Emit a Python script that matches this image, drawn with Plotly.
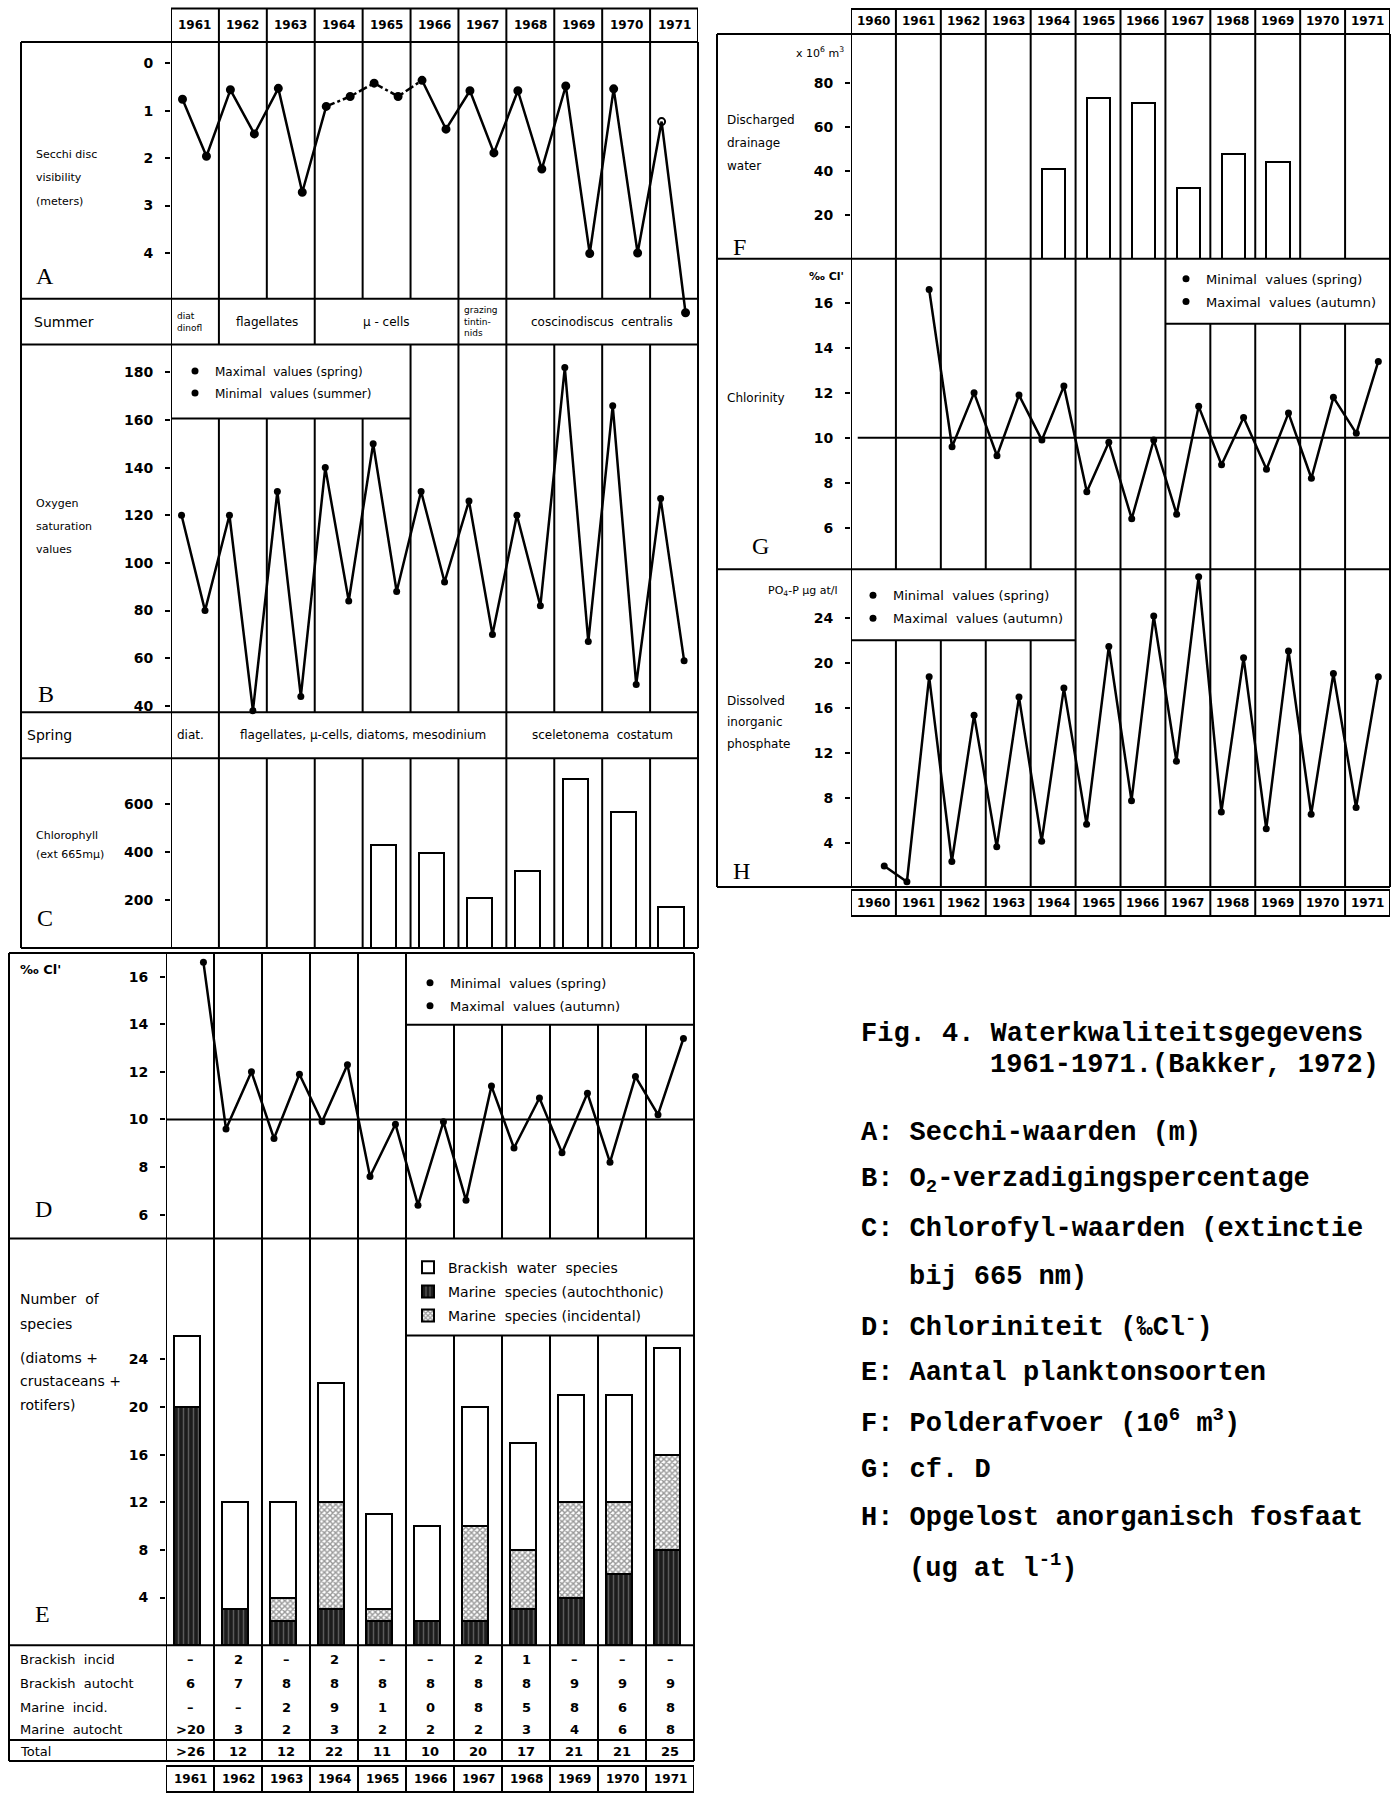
import plotly.graph_objects as go

W, H = 1398, 1796

# ---------------------------------------------------------------- data
YEARS_L = list(range(1961, 1972))
YEARS_R = list(range(1960, 1972))

# A: Secchi disc visibility (m)
secchi_spring = [0.76, 0.56, 0.53, 0.91, 0.42, 0.36, 0.58, 0.58, 0.48, 0.54, 1.23]
secchi_summer = [1.96, 1.49, 2.72, 0.70, 0.70, 1.39, 1.89, 2.23, 4.01, 4.00, 5.26]

# B: oxygen saturation values
oxygen_spring_max = [120, 120, 130, 140, 150, 130, 126, 120, 182, 166, 127]
oxygen_summer_min = [80, 38, 44, 84, 88, 92, 70, 82, 67, 49, 59]

# dominant plankton
summer_plankton = ["diat<br>dinofl", "flagellates", "µ - cells", "grazing<br>tintin-<br>nids",
                   "coscinodiscus  centralis"]
summer_start = [1961, 1962, 1964, 1967, 1968]
summer_end = [1962, 1964, 1967, 1968, 1972]
spring_plankton = ["diat.", "flagellates, µ-cells, diatoms, mesodinium", "sceletonema  costatum"]
spring_start = [1961, 1962, 1968]
spring_end = [1962, 1968, 1972]

# C: chlorophyll
chloro_years = [1965, 1966, 1967, 1968, 1969, 1970, 1971]
chloro_vals = [428, 397, 210, 320, 703, 568, 170]

# D / G: chlorinity
chl_spring_years = list(range(1962, 1972))
chl_spring_min = [9.6, 9.2, 9.9, 7.6, 6.4, 6.6, 8.8, 8.6, 8.2, 10.2]
chl_autumn_years = list(range(1961, 1972))
chl_autumn_max = [16.6, 12.0, 11.9, 12.3, 9.8, 9.9, 11.4, 10.9, 11.1, 11.8, 13.4]

# E: number of species
brackish_incid = [None, 2, None, 2, None, None, 2, 1, None, None, None]
brackish_autocht = [6, 7, 8, 8, 8, 8, 8, 8, 9, 9, 9]
marine_incid = [None, None, 2, 9, 1, 0, 8, 5, 8, 6, 8]
marine_autocht = [20, 3, 2, 3, 2, 2, 2, 3, 4, 6, 8]
species_total = [26, 12, 12, 22, 11, 10, 20, 17, 21, 21, 25]
is_minimum = [True, False, False, False, False, False, False, False, False, False, False]
table_rows = ["Brackish  incid", "Brackish  autocht", "Marine  incid.", "Marine  autocht", "Total"]

# F: discharged drainage water
drain_years = [1964, 1965, 1966, 1967, 1968, 1969]
drain_vals = [41, 73, 71, 32, 47.5, 44]

# H: dissolved inorganic phosphate
phos_spring_years = list(range(1961, 1972))
phos_spring_min = [0.6, 2.4, 3.7, 4.2, 5.7, 7.8, 11.3, 6.8, 5.3, 6.6, 7.2]
phos_autumn_years = list(range(1960, 1972))
phos_autumn_max = [2.0, 18.8, 15.4, 17.0, 17.8, 21.5, 24.2, 27.7, 20.5, 21.1, 19.1, 18.8]

caption = [
    "Fig. 4. Waterkwaliteitsgegevens",
    "1961-1971.(Bakker, 1972)",
    "A: Secchi-waarden (m)",
    "B: O<sub>2</sub>-verzadigingspercentage",
    "C: Chlorofyl-waarden (extinctie",
    "bij 665 nm)",
    "D: Chloriniteit (‰Cl<sup>-</sup>)",
    "E: Aantal planktonsoorten",
    "F: Polderafvoer (10<sup>6</sup> m<sup>3</sup>)",
    "G: cf. D",
    "H: Opgelost anorganisch fosfaat",
    "(ug at l<sup>-1</sup>)",
]

# ---------------------------------------------------------------- helpers
SANS = "DejaVu Sans"
SERIF = "Liberation Serif"
MONO = "Liberation Mono"
LW = 2


def px(x):
    return x / W


def py(y):
    return 1 - y / H


def lin_range(p_top, p_bot, v1, p1, v2, p2):
    k = (v2 - v1) / (p2 - p1)
    return [v1 + (p_bot - p1) * k, v1 + (p_top - p1) * k]


def merge(xa, ya, xb, yb):
    pts = sorted(list(zip(xa, ya)) + list(zip(xb, yb)))
    return [p[0] for p in pts], [p[1] for p in pts]


shapes = []
annotations = []


def seg(x0, y0, x1, y1, xref="paper", yref="paper", dash="solid", width=LW):
    shapes.append(dict(type="line", xref=xref, yref=yref,
                       x0=px(x0) if xref == "paper" else x0,
                       x1=px(x1) if xref == "paper" else x1,
                       y0=py(y0) if yref == "paper" else y0,
                       y1=py(y1) if yref == "paper" else y1,
                       line=dict(color="black", width=width, dash=dash)))


def vline(xref, xv, y0, y1):
    seg(xv, y0, xv, y1, xref=xref)


def hline(xref, xa, xb, y):
    seg(xa, y, xb, y, xref=xref)


def ann(text, x, y, xref="paper", size=12, family=SANS, xanchor="left",
        yanchor="middle", weight="normal", align="left"):
    annotations.append(dict(text=text, x=px(x) if xref == "paper" else x, y=py(y),
                            xref=xref, yref="paper", showarrow=False,
                            xanchor=xanchor, yanchor=yanchor, align=align,
                            font=dict(family=family, size=size, color="black", weight=weight)))


# ---------------------------------------------------------------- geometry
LT_X0, LT_X1, LT_LEFT = 171, 698, 21
LB_X0, LB_X1, LB_LEFT = 166, 694, 9
R_X0, R_X1, R_LEFT = 851, 1390, 717

fig = go.Figure()

line_style = dict(color="black", width=2.5)
mk = dict(color="black", size=7)

# ---- A: Secchi
xa, ya = merge([y + 0.24 for y in YEARS_L], secchi_spring,
               [y + 0.74 for y in YEARS_L], secchi_summer)
i64 = xa.index(1964.24)
i66 = xa.index(1966.24)
for sl, dash in ((slice(0, i64 + 1), "solid"), (slice(i64, i66 + 1), "dashdot"),
                 (slice(i66, None), "solid")):
    fig.add_trace(go.Scatter(x=xa[sl], y=ya[sl], mode="lines", xaxis="x", yaxis="y",
                             line=dict(color="black", width=2.5, dash=dash),
                             showlegend=False, cliponaxis=False, hoverinfo="skip"))
# the last spring reading is drawn as an open circle in the original
open_x = YEARS_L[-1] + 0.24
sym = ["circle-open" if abs(x - open_x) < 1e-9 else "circle" for x in xa]
fig.add_trace(go.Scatter(x=xa, y=ya, mode="markers", xaxis="x", yaxis="y",
                         marker=dict(color="black", size=7, symbol=sym,
                                     line=dict(color="black", width=2)),
                         showlegend=False, cliponaxis=False))

# ---- B: Oxygen
xs_b = [y + 0.22 for y in YEARS_L]
xm_b = [y + 0.71 for y in YEARS_L]
xb, yb = merge(xs_b, oxygen_spring_max, xm_b, oxygen_summer_min)
fig.add_trace(go.Scatter(x=xb, y=yb, mode="lines", xaxis="x", yaxis="y2", line=line_style,
                         showlegend=False, cliponaxis=False))
fig.add_trace(go.Scatter(x=xs_b, y=oxygen_spring_max, mode="markers", xaxis="x", yaxis="y2",
                         marker=mk, name="Maximal  values (spring)", legend="legend2",
                         legendgroup="b1", cliponaxis=False))
fig.add_trace(go.Scatter(x=xm_b, y=oxygen_summer_min, mode="markers", xaxis="x", yaxis="y2",
                         marker=mk, name="Minimal  values (summer)", legend="legend2",
                         legendgroup="b2", cliponaxis=False))

# ---- C: Chlorophyll
fig.add_trace(go.Bar(x=[y + 0.44 for y in chloro_years], y=chloro_vals, width=0.53,
                     xaxis="x", yaxis="y3", showlegend=False,
                     marker=dict(color="white", line=dict(color="black", width=2))))

# ---- D and G: Chlorinity
for xax, yax, lg, off_s, off_a in (("x2", "y4", "legend3", 0.25, 0.78), ("x3", "y7", "legend4", 0.25, 0.74)):
    xs = [y + off_s for y in chl_spring_years]
    xt = [y + off_a for y in chl_autumn_years]
    xc, yc = merge(xs, chl_spring_min, xt, chl_autumn_max)
    fig.add_trace(go.Scatter(x=xc, y=yc, mode="lines", xaxis=xax, yaxis=yax, line=line_style,
                             showlegend=False, cliponaxis=False))
    fig.add_trace(go.Scatter(x=xs, y=chl_spring_min, mode="markers", xaxis=xax, yaxis=yax,
                             marker=mk, name="Minimal  values (spring)", legend=lg,
                             legendgroup=lg + "a", cliponaxis=False))
    fig.add_trace(go.Scatter(x=xt, y=chl_autumn_max, mode="markers", xaxis=xax, yaxis=yax,
                             marker=mk, name="Maximal  values (autumn)", legend=lg,
                             legendgroup=lg + "b", cliponaxis=False))

# ---- E: species bars (stacked)
xe = [y + 0.44 for y in YEARS_L]
mar_inc = [v if v is not None else 0 for v in marine_incid]
brack = [(a if a is not None else 0) + b for a, b in zip(brackish_incid, brackish_autocht)]
fig.add_trace(go.Bar(x=xe, y=marine_autocht, width=0.54, xaxis="x2", yaxis="y5",
                     name="Marine  species (autochthonic)", legend="legend", legendgroup="e2",
                     legendrank=2,
                     marker=dict(color="#1c1c1c", line=dict(color="black", width=2),
                                 pattern=dict(shape="|", fgcolor="#9a9a9a", bgcolor="#1c1c1c",
                                              size=5, solidity=0.3))))
fig.add_trace(go.Bar(x=xe, y=mar_inc, width=0.54, xaxis="x2", yaxis="y5",
                     name="Marine  species (incidental)", legend="legend", legendgroup="e3",
                     legendrank=3,
                     marker=dict(color="#333333", line=dict(color="black", width=2),
                                 pattern=dict(shape="x", fgcolor="#333333", bgcolor="white",
                                              size=4, solidity=0.6))))
fig.add_trace(go.Bar(x=xe, y=brack, width=0.54, xaxis="x2", yaxis="y5",
                     name="Brackish  water  species", legend="legend", legendgroup="e1",
                     legendrank=1,
                     marker=dict(color="white", line=dict(color="black", width=2))))

# ---- F: drainage
fig.add_trace(go.Bar(x=[y + 0.51 for y in drain_years], y=drain_vals, width=0.52,
                     xaxis="x3", yaxis="y6", showlegend=False,
                     marker=dict(color="white", line=dict(color="black", width=2))))

# ---- H: phosphate
xs_h = [y + 0.245 for y in phos_spring_years]
xa_h = [y + 0.74 for y in phos_autumn_years]
xh, yh = merge(xs_h, phos_spring_min, xa_h, phos_autumn_max)
fig.add_trace(go.Scatter(x=xh, y=yh, mode="lines", xaxis="x3", yaxis="y8", line=line_style,
                         showlegend=False, cliponaxis=False))
fig.add_trace(go.Scatter(x=xs_h, y=phos_spring_min, mode="markers", xaxis="x3", yaxis="y8",
                         marker=mk, name="Minimal  values (spring)", legend="legend5",
                         legendgroup="h1", cliponaxis=False))
fig.add_trace(go.Scatter(x=xa_h, y=phos_autumn_max, mode="markers", xaxis="x3", yaxis="y8",
                         marker=mk, name="Maximal  values (autumn)", legend="legend5",
                         legendgroup="h2", cliponaxis=False))

# ---------------------------------------------------------------- axes


def yax(anchor, top, bot, rng, tickvals):
    return dict(anchor=anchor, domain=[py(bot), py(top)], range=rng, tickvals=tickvals,
                ticks="outside", ticklen=5, tickwidth=2, tickcolor="black",
                showline=False, showgrid=False, zeroline=False, ticklabelstandoff=9,
                tickfont=dict(family=SANS, size=14, color="black", weight="bold"),
                fixedrange=True)


xcommon = dict(visible=False, showgrid=False, zeroline=False, fixedrange=True)
layout_axes = dict(
    xaxis=dict(domain=[px(LT_X0), px(LT_X1)], range=[1961, 1972], anchor="y", **xcommon),
    xaxis2=dict(domain=[px(LB_X0), px(LB_X1)], range=[1961, 1972], anchor="y5", **xcommon),
    xaxis3=dict(domain=[px(R_X0), px(R_X1)], range=[1960, 1972], anchor="y6", **xcommon),
    yaxis=yax("x", 42, 345, lin_range(42, 345, 0, 63.3, 4, 253.3), [0, 1, 2, 3, 4]),
    yaxis2=yax("x", 345, 713, lin_range(345, 713, 180, 372.7, 40, 706.7), list(range(40, 181, 20))),
    yaxis3=yax("x", 759, 949, lin_range(759, 949, 0, 949, 600, 805), [200, 400, 600]),
    yaxis4=yax("x2", 954, 1240, lin_range(954, 1240, 16, 977.7, 6, 1216), list(range(6, 17, 2))),
    yaxis5=yax("x2", 1240, 1647, lin_range(1240, 1647, 0, 1647, 24, 1361), list(range(4, 25, 4))),
    yaxis6=yax("x3", 34, 259, lin_range(34, 259, 0, 259, 80, 83), [20, 40, 60, 80]),
    yaxis7=yax("x3", 259, 570, lin_range(259, 570, 16, 303.3, 6, 528.3), list(range(6, 17, 2))),
    yaxis8=yax("x3", 570, 888, lin_range(570, 888, 0, 889.5, 24, 619), list(range(4, 25, 4))),
)

# ---------------------------------------------------------------- frames
# left upper block
hline("x", 1961, 1972, 8.5)
for y in range(1961, 1973):
    vline("x", y, 8.5, 42)
for yy in (42, 299, 345, 713, 759, 949):
    seg(LT_LEFT, yy, LT_X1, yy)
seg(LT_LEFT, 42, LT_LEFT, 949)
seg(LT_X1, 42, LT_X1, 949)
for y in YEARS_L:
    vline("x", y, 42, 299)
for y in summer_start:
    vline("x", y, 299, 345)
for y in YEARS_L:
    vline("x", y, 419 if 1962 <= y <= 1965 else 345, 713)
hline("x", 1961, 1966, 419)
for y in spring_start:
    vline("x", y, 713, 759)
for y in YEARS_L:
    vline("x", y, 759, 949)

# left lower block
for yy in (954, 1240, 1647, 1742, 1763):
    seg(LB_LEFT, yy, LB_X1, yy)
seg(LB_LEFT, 954, LB_LEFT, 1763)
seg(LB_X1, 954, LB_X1, 1763)
for y in YEARS_L:
    vline("x2", y, 1026 if y >= 1967 else 954, 1240)
    vline("x2", y, 1337 if y >= 1967 else 1240, 1647)
    vline("x2", y, 1647, 1763)
hline("x2", 1966, 1972, 1026)
hline("x2", 1966, 1972, 1337)
seg(1961, 10, 1972, 10, xref="x2", yref="y4")
hline("x2", 1961, 1972, 1768)
hline("x2", 1961, 1972, 1794)
for y in range(1961, 1973):
    vline("x2", y, 1768, 1794)

# right block
hline("x3", 1960, 1972, 9)
for y in range(1960, 1973):
    vline("x3", y, 9, 34)
for yy in (34, 259, 570, 888):
    seg(R_LEFT, yy, R_X1, yy)
seg(R_LEFT, 34, R_LEFT, 888)
seg(R_X1, 34, R_X1, 888)
for y in YEARS_R:
    vline("x3", y, 34, 259)
    vline("x3", y, 324 if y >= 1968 else 259, 570)
    vline("x3", y, 641 if 1961 <= y <= 1964 else 570, 888)
hline("x3", 1967, 1972, 324)
hline("x3", 1960, 1965, 641)
seg(1960.15, 10, 1972, 10, xref="x3", yref="y7")
hline("x3", 1960, 1972, 891)
hline("x3", 1960, 1972, 917)
for y in range(1960, 1973):
    vline("x3", y, 891, 917)

# ---------------------------------------------------------------- texts
for y in YEARS_L:
    ann(str(y), y + 0.5, 25.5, xref="x", size=12, xanchor="center", weight="bold")
    ann(str(y), y + 0.5, 1781, xref="x2", size=12, xanchor="center", weight="bold")
for y in YEARS_R:
    ann(str(y), y + 0.5, 21.5, xref="x3", size=12, xanchor="center", weight="bold")
    ann(str(y), y + 0.5, 904, xref="x3", size=12, xanchor="center", weight="bold")

# left labels
for t, yy in (("Secchi disc", 155), ("visibility", 178), ("(meters)", 202)):
    ann(t, 34, yy, size=11)
ann("A", 34, 276, size=24, family=SERIF)
ann("Summer", 32, 322, size=14)
for t, s, e in zip(summer_plankton, summer_start, summer_end):
    small = "<br>" in t
    if small:
        ann(t, s + 0.08, 322, xref="x", size=9, xanchor="left")
    else:
        ann(t, (s + e) / 2, 322, xref="x", size=12, xanchor="center")
for t, yy in (("Oxygen", 504), ("saturation", 527), ("values", 550)):
    ann(t, 34, yy, size=11)
ann("B", 36, 695, size=24, family=SERIF)
ann("Spring", 25, 736, size=14)
for t, s, e in zip(spring_plankton, spring_start, spring_end):
    ann(t, (s + e) / 2 - (0.1 if e - s == 1 else 0), 736, xref="x", size=12, xanchor="center")
ann("Chlorophyll", 34, 836, size=11)
ann("(ext 665mµ)", 34, 855, size=11)
ann("C", 35, 919, size=24, family=SERIF)
ann("‰ Cl'", 18, 971, size=13, weight="bold")
ann("D", 33, 1210, size=24, family=SERIF)
for t, yy in (("Number  of", 1300), ("species", 1325), ("(diatoms +", 1360),
              ("crustaceans +", 1383), ("rotifers)", 1407)):
    ann(t, 18, yy, size=14)
ann("E", 33, 1616, size=24, family=SERIF)

# table
ROW_Y = (1661, 1685, 1709, 1731, 1753)
for t, yy in zip(table_rows, ROW_Y):
    ann(t, 18, yy, size=13)


def fmt(v, mn=False):
    if v is None:
        return "–"
    return (">" if mn else "") + str(v)


for i, y in enumerate(YEARS_L):
    col = [fmt(brackish_incid[i]), fmt(brackish_autocht[i]), fmt(marine_incid[i]),
           fmt(marine_autocht[i], is_minimum[i]), fmt(species_total[i], is_minimum[i])]
    for t, yy in zip(col, ROW_Y):
        ann(t, y + 0.5, yy, xref="x2", size=13, xanchor="center", weight="bold")

# right labels
ann("x 10<sup>6</sup> m<sup>3</sup>", 846, 53, size=11, xanchor="right")
for t, yy in (("Discharged", 120), ("drainage", 143), ("water", 166)):
    ann(t, 725, yy, size=12)
ann("F", 731, 247, size=24, family=SERIF)
ann("‰ Cl'", 846, 277, size=11, xanchor="right", weight="bold")
ann("Chlorinity", 725, 398, size=12)
ann("G", 750, 547, size=24, family=SERIF)
ann("PO<sub>4</sub>-P µg at/l", 840, 592, size=11, xanchor="right")
for t, yy in (("Dissolved", 702), ("inorganic", 723), ("phosphate", 745)):
    ann(t, 725, yy, size=12)
ann("H", 731, 872, size=24, family=SERIF)

# caption
cap_pos = [(859, 1035), (988, 1066), (859, 1134), (859, 1182), (859, 1230), (907, 1278),
           (859, 1327), (859, 1375), (859, 1423), (859, 1472), (859, 1520), (907, 1568)]
for t, (cx, cy) in zip(caption, cap_pos):
    ann(t, cx, cy, size=27, family=MONO, weight="bold")

# ---------------------------------------------------------------- layout
leg = dict(bgcolor="rgba(0,0,0,0)", borderwidth=0, traceorder="grouped", tracegroupgap=3,
           xanchor="left", yanchor="top", itemwidth=30, itemclick=False, itemdoubleclick=False)
fig.update_layout(
    width=W, height=H, margin=dict(l=0, r=0, t=0, b=0),
    paper_bgcolor="white", plot_bgcolor="white",
    barmode="stack", showlegend=True,
    font=dict(family=SANS, color="black"),
    shapes=shapes, annotations=annotations,
    legend=dict(x=px(408), y=py(1253), font=dict(family=SANS, size=14), **leg),
    legend2=dict(x=px(175), y=py(357), font=dict(family=SANS, size=12), **leg),
    legend3=dict(x=px(410), y=py(969), font=dict(family=SANS, size=13), **leg),
    legend4=dict(x=px(1166), y=py(264), font=dict(family=SANS, size=13), **leg),
    legend5=dict(x=px(853), y=py(581), font=dict(family=SANS, size=13), **leg),
    **layout_axes,
)

fig.write_html("out.html", config={"displayModeBar": False, "staticPlot": True},
               post_script="document.body.style.margin='0';")
